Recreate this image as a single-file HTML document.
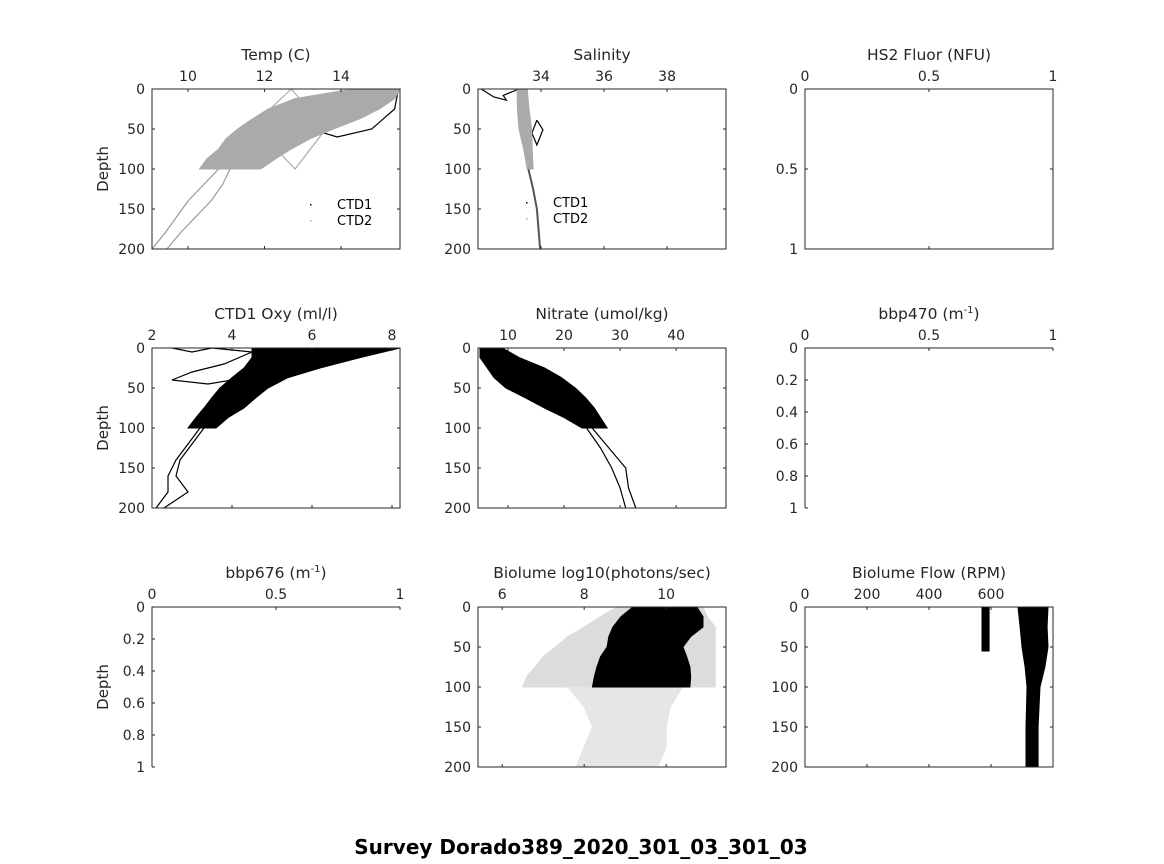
<!DOCTYPE html>
<html><head><meta charset="utf-8">
<style>
html,body{margin:0;padding:0;background:#fff;}
svg{display:block;font-family:"DejaVu Sans","Liberation Sans",sans-serif;}
</style></head>
<body>
<svg id="fig" width="1164" height="864" viewBox="0 0 1164 864" xmlns="http://www.w3.org/2000/svg">
<rect x="0" y="0" width="1164" height="864" fill="#fff"/>
<text x="581" y="854" text-anchor="middle" font-size="20" font-weight="bold" fill="#000">Survey Dorado389_2020_301_03_301_03</text>
</svg>
<script>
// ---------- data ----------
const bandDepths = [0,12,25,37,50,62,75,87,100];
const tempLo = [14.3,12.8,12.1,11.7,11.3,11.0,10.8,10.5,10.3];
const tempHi = [15.55,15.4,15.0,14.5,13.8,13.2,12.7,12.3,11.9];
const deepDepths = [100,120,140,160,180,200];
const tempDeepA = [10.8,10.4,10.0,9.7,9.4,9.06];
const tempDeepB = [11.1,10.9,10.6,10.2,9.8,9.45];
const tempLoopT = [12.7,11.7,12.8,13.6,12.7];
const tempLoopD = [0,45,100,50,0];
const tempBlackT = [15.5,15.4,14.8,13.9,13.2,13.6,14.0];
const tempBlackD = [0,25,50,60,50,40,30];

const salDepths = [0,25,50,75,100];
const salLo = [33.24,33.25,33.3,33.45,33.56];
const salHi = [33.56,33.62,33.7,33.72,33.75];
const salDeepD = [100,125,150,175,200];
const salDeep = [33.6,33.75,33.87,33.92,33.97];
const salLoopS = [33.87,34.06,33.87,33.71,33.87];
const salLoopD = [39,51,70,55,39];
const salTopS = [33.3,32.8,32.9,32.5,32.1];
const salTopD = [0,8,14,10,0];

const oxyLo = [4.5,4.5,4.3,4.0,3.7,3.5,3.3,3.1,2.9];
const oxyHi = [8.2,7.2,6.2,5.4,4.9,4.6,4.3,3.9,3.6];
const oxyDeepA = [3.2,2.9,2.6,2.4,2.4,2.1];
const oxyDeepB = [3.3,3.0,2.7,2.6,2.9,2.3];
const oxyLoopO = [2.5,3.0,3.5,4.5,3.8,3.0,2.5,3.4,4.6];
const oxyLoopD = [0,5,0,5,20,30,40,45,35];

const nitLo = [5,5,6.3,7.5,9.6,13,16.5,20,23.2];
const nitHi = [9,12,16.5,19.5,22,23.8,25.4,26.5,27.7];
const nitDeepD = [100,125,150,175,200];
const nitDeepA = [24,26.5,28.5,30,31];
const nitDeepB = [25,28,31,31.5,32.8];

const bioDepths = [0,12,25,37,50,62,75,87,100];
const bioLo = [9.19,8.9,8.7,8.6,8.56,8.4,8.31,8.25,8.2];
const bioHi = [10.75,10.9,10.9,10.6,10.41,10.5,10.58,10.6,10.58];
const bioHaloLo = [8.8,8.4,8.0,7.6,7.3,7.0,6.8,6.6,6.5];
const bioHaloHi = [10.9,11.0,11.2,11.2,11.2,11.2,11.2,11.2,11.2];
const bioSparseD = [100,125,150,175,200];
const bioSparseLo = [7.6,8.0,8.2,8.0,7.8];
const bioSparseHi = [10.4,10.1,10.0,10.0,9.8];

const flowDepths = [0,25,50,75,100,150,200];
const flowLo = [687,694,700,710,716,713,713];
const flowHi = [784,781,784,774,758,752,752];
const flowSideD = [0,55];
const flowSideLo = [571,571];
const flowSideHi = [594,594];

// ---------- drawing ----------
const NS = "http://www.w3.org/2000/svg";
const svg = document.getElementById('fig');
const TXT = "#262626";
function mk(tag, attrs, parent){
  const e = document.createElementNS(NS, tag);
  for (const k in attrs) e.setAttribute(k, attrs[k]);
  (parent||svg).appendChild(e);
  return e;
}
function panel(cfg){
  const g = mk('g', {});
  
  
  const x = v => cfg.x0 + (v - cfg.xmin) / (cfg.xmax - cfg.xmin) * (cfg.x1 - cfg.x0);
  const y = v => cfg.y0 + (v - cfg.ymin) / (cfg.ymax - cfg.ymin) * (cfg.y1 - cfg.y0);
  cfg.draw && cfg.draw(g, x, y);
  const ax = mk('path', {d: cfg.full
    ? `M${cfg.x0},${cfg.y0}H${cfg.x1}V${cfg.y1}H${cfg.x0}Z`
    : `M${cfg.x1},${cfg.y0}H${cfg.x0}V${cfg.y1}`, fill:'none', stroke:TXT, 'stroke-width':1}, g);
  
  
  cfg.xticks.forEach((t,i) => {
    const px = x(t);
    mk('line', {x1:px, x2:px, y1:cfg.y0, y2:cfg.y0+3, stroke:TXT}, g);
    if (cfg.full) mk('line', {x1:px, x2:px, y1:cfg.y1, y2:cfg.y1-3, stroke:TXT}, g);
    const lb = mk('text', {x:px, y:cfg.y0-8, 'text-anchor':'middle', 'font-size':14, fill:TXT}, g);
    lb.textContent = cfg.xlabels[i];
    
    
  });
  cfg.yticks.forEach((t,i) => {
    const py = y(t);
    mk('line', {x1:cfg.x0, x2:cfg.x0+3, y1:py, y2:py, stroke:TXT}, g);
    if (cfg.full) mk('line', {x1:cfg.x1, x2:cfg.x1-3, y1:py, y2:py, stroke:TXT}, g);
    const lb = mk('text', {x:cfg.x0-7, y:py+5, 'text-anchor':'end', 'font-size':14, fill:TXT}, g);
    lb.textContent = cfg.ylabels[i];
    
    
  });
  const tt = mk('text', {x:(cfg.x0+cfg.x1)/2, y:cfg.y0-29, 'text-anchor':'middle', 'font-size':15.5, fill:TXT}, g);
  tt.innerHTML = cfg.title;
  
  
  if (cfg.ylabel){
    const cy = (cfg.y0+cfg.y1)/2, cx = cfg.x0 - 44;
    const yl = mk('text', {x:cx, y:cy, transform:`rotate(-90 ${cx} ${cy})`, 'text-anchor':'middle', 'font-size':15, fill:TXT}, g);
    yl.textContent = 'Depth';
    
    
  }
  return g;
}
function band(g, x, y, ds, lo, hi, fill, name){
  let d = ds.map((v,i)=>`${i?'L':'M'}${x(lo[i]).toFixed(1)},${y(v).toFixed(1)}`).join('');
  for (let i=ds.length-1;i>=0;i--) d += `L${x(hi[i]).toFixed(1)},${y(ds[i]).toFixed(1)}`;
  const p = mk('path', {d:d+'Z', fill:fill, stroke:fill, 'stroke-width':1}, g);
  
  
}
function line(g, x, y, ds, vs, color, name, w){
  const d = ds.map((v,i)=>`${i?'L':'M'}${x(vs[i]).toFixed(1)},${y(v).toFixed(1)}`).join('');
  const p = mk('path', {d:d, fill:'none', stroke:color, 'stroke-width':w||1.2}, g);
  
  
}
function legend(g, lx, ly){
  const t1 = mk('text', {x:lx, y:ly, 'font-size':13, fill:'#000'}, g); t1.textContent='CTD1';
  
  
  const t2 = mk('text', {x:lx, y:ly+16, 'font-size':13, fill:'#000'}, g); t2.textContent='CTD2';
  
  
  mk('rect', {x:lx-27, y:ly-5, width:1.5, height:1.5, fill:'#000'}, g);
  mk('rect', {x:lx-27, y:ly+11, width:1.5, height:1.5, fill:'#aaa'}, g);
}
const C1 = [152,400], C2 = [478,726], C3 = [805,1053];
const R1 = [89,249], R2 = [348,508], R3 = [607,767];
const dT = [0,50,100,150,200], dL = ['0','50','100','150','200'];

panel({name:'temp-panel', x0:C1[0], x1:C1[1], y0:R1[0], y1:R1[1], xmin:9.06, xmax:15.54, ymin:0, ymax:200, full:true,
  xticks:[10,12,14], xlabels:['10','12','14'], yticks:dT, ylabels:dL, title:'Temp (C)', ylabel:true,
  draw:(g,x,y)=>{
    line(g,x,y,tempBlackD,tempBlackT,'#000','ctd1-temp-loop');
    line(g,x,y,tempLoopD,tempLoopT,'#aaa','ctd2-temp-loop');
    band(g,x,y,bandDepths,tempLo,tempHi,'#aaa','temp-cloud');
    line(g,x,y,deepDepths,tempDeepA,'#999','temp-deep-a');
    line(g,x,y,deepDepths,tempDeepB,'#999','temp-deep-b');
    legend(g,337,209);
  }});
panel({name:'salinity-panel', x0:C2[0], x1:C2[1], y0:R1[0], y1:R1[1], xmin:32, xmax:39.87, ymin:0, ymax:200, full:true,
  xticks:[34,36,38], xlabels:['34','36','38'], yticks:dT, ylabels:dL, title:'Salinity',
  draw:(g,x,y)=>{
    line(g,x,y,salLoopD,salLoopS,'#000','ctd1-sal-loop');
    line(g,x,y,salTopD,salTopS,'#000','ctd1-sal-top');
    band(g,x,y,salDepths,salLo,salHi,'#aaa','salinity-cloud');
    line(g,x,y,salDeepD,salDeep,'#555','salinity-deep',2);
    legend(g,553,207);
  }});
panel({name:'hs2-fluor-panel', x0:C3[0], x1:C3[1], y0:R1[0], y1:R1[1], xmin:0, xmax:1, ymin:0, ymax:1, full:true,
  xticks:[0,0.5,1], xlabels:['0','0.5','1'], yticks:[0,0.5,1], ylabels:['0','0.5','1'], title:'HS2 Fluor (NFU)'});

panel({name:'oxygen-panel', x0:C1[0], x1:C1[1], y0:R2[0], y1:R2[1], xmin:2, xmax:8.2, ymin:0, ymax:200, full:true,
  xticks:[2,4,6,8], xlabels:['2','4','6','8'], yticks:dT, ylabels:dL, title:'CTD1 Oxy (ml/l)', ylabel:true,
  draw:(g,x,y)=>{
    line(g,x,y,oxyLoopD,oxyLoopO,'#000','oxy-loop');
    band(g,x,y,bandDepths,oxyLo,oxyHi,'#000','oxy-cloud');
    line(g,x,y,deepDepths,oxyDeepA,'#000','oxy-deep-a');
    line(g,x,y,deepDepths,oxyDeepB,'#000','oxy-deep-b');
  }});
panel({name:'nitrate-panel', x0:C2[0], x1:C2[1], y0:R2[0], y1:R2[1], xmin:4.64, xmax:48.9, ymin:0, ymax:200, full:true,
  xticks:[10,20,30,40], xlabels:['10','20','30','40'], yticks:dT, ylabels:dL, title:'Nitrate (umol/kg)',
  draw:(g,x,y)=>{
    band(g,x,y,bandDepths,nitLo,nitHi,'#000','nitrate-cloud');
    line(g,x,y,nitDeepD,nitDeepA,'#000','nitrate-deep-a');
    line(g,x,y,nitDeepD,nitDeepB,'#000','nitrate-deep-b');
  }});
panel({name:'bbp470-panel', x0:C3[0], x1:C3[1], y0:R2[0], y1:R2[1], xmin:0, xmax:1, ymin:0, ymax:1, full:false,
  xticks:[0,0.5,1], xlabels:['0','0.5','1'], yticks:[0,0.2,0.4,0.6,0.8,1], ylabels:['0','0.2','0.4','0.6','0.8','1'],
  title:'bbp470 (m<tspan font-size="10" dy="-6">-1</tspan><tspan dy="6">)</tspan>'});

panel({name:'bbp676-panel', x0:C1[0], x1:C1[1], y0:R3[0], y1:R3[1], xmin:0, xmax:1, ymin:0, ymax:1, full:false,
  xticks:[0,0.5,1], xlabels:['0','0.5','1'], yticks:[0,0.2,0.4,0.6,0.8,1], ylabels:['0','0.2','0.4','0.6','0.8','1'],
  title:'bbp676 (m<tspan font-size="10" dy="-6">-1</tspan><tspan dy="6">)</tspan>', ylabel:true});
panel({name:'biolume-panel', x0:C2[0], x1:C2[1], y0:R3[0], y1:R3[1], xmin:5.41, xmax:11.46, ymin:0, ymax:200, full:true,
  xticks:[6,8,10], xlabels:['6','8','10'], yticks:dT, ylabels:dL, title:'Biolume log10(photons/sec)',
  draw:(g,x,y)=>{
    band(g,x,y,bioDepths,bioHaloLo,bioHaloHi,'#dcdcdc','biolume-sparse-upper');
    band(g,x,y,bioSparseD,bioSparseLo,bioSparseHi,'#e6e6e6','biolume-sparse-lower');
    band(g,x,y,bioDepths,bioLo,bioHi,'#000','biolume-dense');
  }});
panel({name:'biolume-flow-panel', x0:C3[0], x1:C3[1], y0:R3[0], y1:R3[1], xmin:0, xmax:800, ymin:0, ymax:200, full:true,
  xticks:[0,200,400,600], xlabels:['0','200','400','600'], yticks:dT, ylabels:dL, title:'Biolume Flow (RPM)',
  draw:(g,x,y)=>{
    band(g,x,y,flowSideD,flowSideLo,flowSideHi,'#000','flow-side-strand');
    band(g,x,y,flowDepths,flowLo,flowHi,'#000','flow-main');
  }});
</script>
</body></html>
